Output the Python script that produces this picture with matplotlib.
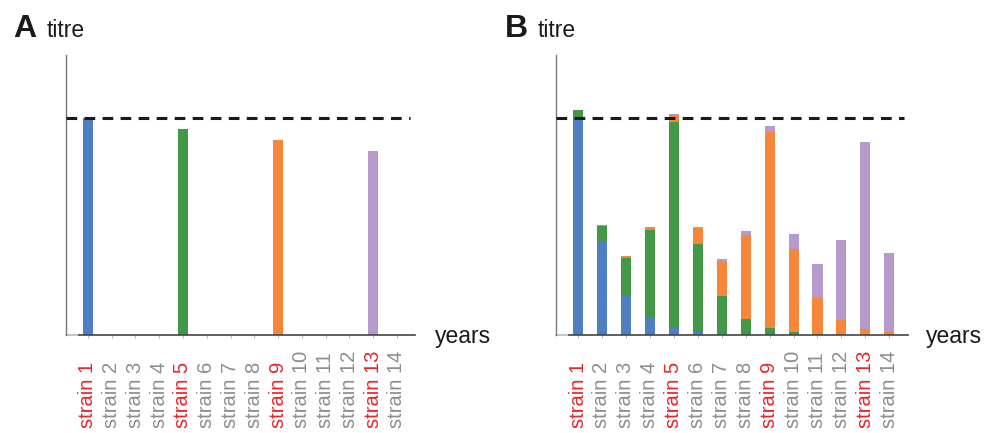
import matplotlib
matplotlib.use("Agg")
import matplotlib.pyplot as plt
import numpy as np

plt.rcParams['font.family'] = ['Liberation Sans', 'DejaVu Sans']

strains = ['strain %d' % i for i in range(1, 15)]
highlight = ['strain 1', 'strain 5', 'strain 9', 'strain 13']

# panel A: single bars
a_values = [1.0, 0, 0, 0, 0.95, 0, 0, 0, 0.90, 0, 0, 0, 0.85, 0]
a_series = ['blue', 'blue', 'blue', 'blue', 'green', 'green', 'green', 'green',
            'orange', 'orange', 'orange', 'orange', 'purple', 'purple']

# panel B: stacked components
b_blue = [1.0, 0.43, 0.18, 0.077, 0.032, 0.014, 0.003, 0, 0, 0, 0, 0, 0, 0]
b_green = [0.035, 0.072, 0.176, 0.407, 0.95, 0.407, 0.176, 0.076, 0.031, 0.014, 0.003, 0, 0, 0]
b_orange = [0, 0.005, 0.006, 0.015, 0.03, 0.07, 0.164, 0.386, 0.903, 0.384, 0.167, 0.071, 0.028, 0.014]
b_purple = [0, 0, 0, 0, 0.005, 0.006, 0.009, 0.015, 0.029, 0.069, 0.159, 0.367, 0.86, 0.366]

colors = {'blue': '#4f7fc3', 'green': '#419846', 'orange': '#f5863a', 'purple': '#b59acb'}
red = '#e8252b'
gray = '#8d8d8d'

fig = plt.figure(figsize=(9.97, 4.33), dpi=100)
axA = fig.add_axes([66/997, 98/433, 349/997, 280/433])
axB = fig.add_axes([556/997, 98/433, 352/997, 280/433])

x = np.arange(1, 15)
w = 0.42

axA.bar(x, a_values, width=w, color=[colors[s] for s in a_series])

bottom = np.zeros(14)
for vals, c in [(b_blue, 'blue'), (b_green, 'green'), (b_orange, 'orange'), (b_purple, 'purple')]:
    axB.bar(x, vals, width=w, bottom=bottom, color=colors[c])
    bottom = bottom + np.array(vals)

for ax, xr, dash_end, years_x in [(axA, 14.76, 14.55, 1.057), (axB, 14.78, 14.62, 1.05)]:
    ax.set_xlim(0.08, xr)
    ax.set_ylim(0, 1.29)
    ax.hlines(1.0, 0.08, dash_end, colors='#1a1a1a', linewidth=2.2,
              linestyles=(0, (3.5, 2.4)), zorder=3)
    for s in ['top', 'right']:
        ax.spines[s].set_visible(False)
    ax.spines['left'].set_color('#777777')
    ax.spines['left'].set_linewidth(1.0)
    # the axis line is dark from the first bar on, pale before it
    ax.spines['bottom'].set_bounds(0.62, xr)
    ax.spines['bottom'].set_color('#444444')
    ax.spines['bottom'].set_linewidth(1.2)
    ax.plot([0.08, 0.62], [0, 0], color='#bbbbbb', linewidth=1.2, clip_on=False, zorder=1)
    ax.set_yticks([])
    ax.set_xticks(x)
    ax.set_xticklabels(strains, rotation=90, fontsize=14.5)
    ax.tick_params(axis='x', length=2, color='#bbbbbb', pad=65)
    for lbl in ax.get_xticklabels():
        lbl.set_verticalalignment('bottom')
        lbl.set_color(red if lbl.get_text() in highlight else gray)
    ax.text(years_x, -0.005, 'years', transform=ax.transAxes, fontsize=16.5,
            ha='left', va='center', color='#1a1a1a')

fig.text(13/997, 1 - 37/433, 'A', fontsize=23, fontweight='bold', va='baseline', color='#1a1a1a')
fig.text(47/997, 1 - 37/433, 'titre', fontsize=16.5, va='baseline', color='#1a1a1a')
fig.text(505/997, 1 - 37/433, 'B', fontsize=23, fontweight='bold', va='baseline', color='#1a1a1a')
fig.text(538/997, 1 - 37/433, 'titre', fontsize=16.5, va='baseline', color='#1a1a1a')

fig.savefig('out.png', dpi=100)
